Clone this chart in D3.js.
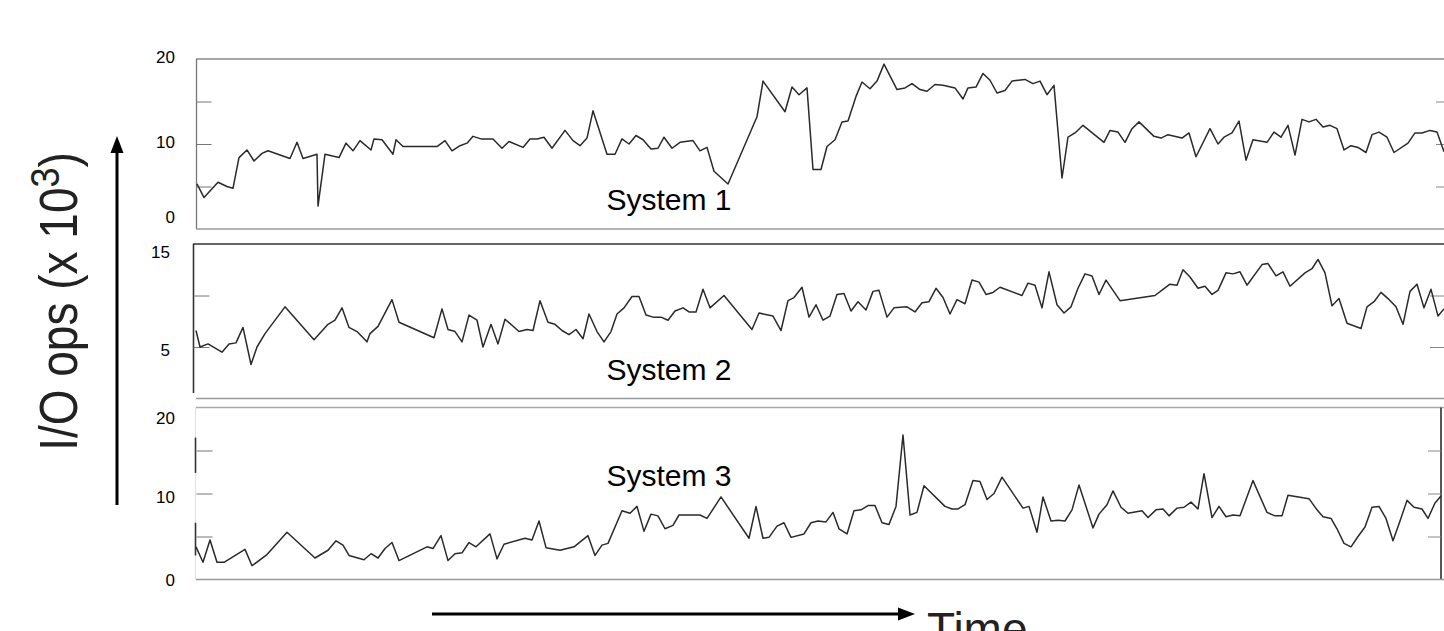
<!DOCTYPE html>
<html>
<head>
<meta charset="utf-8">
<script src="https://cdn.jsdelivr.net/npm/d3@7"></script>
<style>
  html, body { margin: 0; padding: 0; background: #fff; }
  svg { display: block; font-family: "Liberation Sans", Arial, sans-serif; }
</style>
</head>
<body>
<svg id="chart" width="1444" height="631"></svg>
<script>
// time samples (irregular), shared time axis 0..1248
var s1Time = [1, 8, 22, 31, 37, 43, 51, 58, 66, 72, 94, 101, 107, 121, 122, 129, 143, 150, 157, 164, 175, 178, 186, 197, 200, 207, 241, 249, 256, 264, 271, 277, 285, 297, 306, 313, 327, 334, 341, 348, 356, 369, 377, 384, 391, 397,
  411, 419, 426, 433, 440, 447, 455, 462, 468, 476, 484, 497, 504, 511, 518, 532, 561, 567, 589, 596, 603, 611, 617, 625, 631, 639, 646, 652, 660, 666, 674, 681, 688, 701, 709, 716, 724, 731, 739, 747, 759, 767, 772, 780, 787, 794, 801, 809, 816, 829, 837, 844,
  851, 858, 866, 872, 879, 887, 908, 914, 922, 929, 936, 943, 958, 965, 972, 986, 993, 1000, 1014, 1022, 1028, 1036, 1043, 1050, 1057, 1071, 1078, 1085, 1092, 1099, 1106, 1113, 1120, 1127, 1134, 1141, 1148, 1155, 1162, 1170, 1176, 1183, 1191, 1198, 1212, 1219, 1226, 1234, 1241, 1248];
var s1Ops = [5.3, 3.7, 5.5, 5.0, 4.8, 8.4, 9.3, 8.0, 8.9, 9.2, 8.3, 10.2, 8.3, 8.8, 2.7, 8.8, 8.4, 10.1, 9.2, 10.4, 9.3, 10.6, 10.5, 8.8, 10.5, 9.7, 9.7, 10.4, 9.2, 9.8, 10.1, 10.9, 10.6, 10.6, 9.5, 10.3, 9.6, 10.6, 10.6, 10.8, 9.5, 11.6, 10.4, 9.8, 10.7, 13.9,
  8.8, 8.8, 10.6, 10.0, 11.0, 10.5, 9.4, 9.5, 10.8, 9.5, 10.2, 10.4, 9.2, 9.6, 6.8, 5.3, 13.2, 17.4, 13.8, 16.7, 15.8, 16.6, 7.0, 7.0, 9.7, 10.5, 12.6, 12.7, 15.6, 17.3, 16.5, 17.4, 19.4, 16.4, 16.6, 17.1, 16.4, 16.2, 17.0, 16.9, 16.6, 15.3, 16.6, 16.7, 18.3, 17.5, 16.0, 16.3, 17.4, 17.6, 17.1, 17.4,
  15.8, 16.9, 6.0, 10.8, 11.3, 12.2, 10.2, 11.6, 11.4, 10.2, 11.8, 12.6, 10.9, 10.7, 11.1, 10.7, 11.3, 8.5, 11.8, 10.0, 10.8, 11.3, 12.7, 8.1, 10.5, 10.2, 11.4, 10.8, 12.2, 8.7, 12.9, 12.6, 12.9, 12.0, 12.2, 11.8, 9.3, 9.8, 9.6, 9.0, 11.1, 11.4, 10.8, 9.0, 10.1, 11.3, 11.3, 11.6, 11.4, 9.1];

var s2Time = [0, 4, 12, 26, 33, 40, 47, 55, 61, 69, 89, 118, 132, 139, 146, 153, 161, 171, 174, 182, 196, 203, 238, 246, 252, 259, 266, 273, 281, 287, 295, 302, 309, 323, 331, 337, 344, 352, 359, 366, 373, 380, 387, 393,
  401, 408, 415, 421, 428, 436, 443, 450, 457, 465, 472, 479, 487, 493, 500, 507, 514, 528, 556, 563, 577, 585, 592, 598, 606, 613, 620, 627, 634, 641, 648, 655, 662, 670, 677, 683, 691, 698, 711, 719, 726, 733, 740, 747, 754, 761, 769, 776, 783, 790, 797, 804, 826, 832, 839,
  846, 853, 861, 868, 875, 882, 889, 896, 903, 910, 924, 959, 967, 974, 981, 987, 994, 1002, 1009, 1016, 1022, 1030, 1037, 1044, 1051, 1066, 1072, 1080, 1087, 1094, 1109, 1116, 1122, 1129, 1136, 1143, 1151, 1165, 1171, 1178, 1185, 1192, 1200, 1207, 1214, 1221, 1228, 1235, 1242, 1248];
var s2Ops = [6.6, 5.0, 5.3, 4.5, 5.3, 5.4, 6.9, 3.3, 5.0, 6.3, 8.9, 5.7, 7.2, 7.6, 8.8, 6.9, 6.5, 5.5, 6.3, 7.0, 9.6, 7.4, 5.9, 8.7, 6.7, 6.5, 5.5, 8.1, 7.6, 5.0, 7.2, 5.3, 7.7, 6.5, 6.7, 6.6, 9.5, 7.4, 7.2, 6.6, 6.2, 6.7, 5.8, 8.2,
  6.5, 5.5, 6.5, 8.2, 8.8, 9.9, 9.9, 8.1, 7.9, 7.9, 7.6, 8.5, 8.8, 8.4, 8.4, 10.6, 8.8, 10.0, 6.7, 8.3, 8.0, 6.6, 9.5, 9.8, 10.8, 7.9, 9.1, 7.6, 8.0, 10.1, 10.2, 8.5, 9.4, 8.6, 10.4, 10.5, 7.9, 8.8, 8.9, 8.4, 9.3, 9.4, 10.7, 9.8, 8.2, 9.6, 9.2, 11.5, 11.3, 10.1, 10.3, 10.8, 10.0, 11.2, 11.0,
  8.8, 12.3, 9.1, 8.3, 8.9, 10.7, 12.1, 11.9, 10.1, 11.5, 9.5, 10.0, 10.6, 11.1, 11.0, 12.5, 11.8, 10.7, 10.9, 10.1, 10.5, 12.2, 12.1, 12.3, 11.0, 13.0, 13.1, 11.9, 12.3, 10.9, 12.2, 12.6, 13.5, 12.2, 9.0, 9.7, 7.3, 6.8, 8.9, 9.4, 10.3, 9.7, 8.9, 7.2, 10.4, 11.1, 8.8, 10.6, 8.0, 8.7];

var s3Time = [0, 7, 14, 21, 28, 49, 56, 71, 91, 119, 132, 140, 147, 153, 168, 175, 182, 189, 196, 203, 231, 237, 245, 252, 259, 266, 273, 280, 294, 301, 308, 329, 336, 343, 350, 364, 378, 392, 399,
  406, 412, 426, 434, 441, 448, 455, 462, 469, 477, 483, 504, 511, 525, 553, 560, 567, 573, 581, 588, 595, 608, 615, 622, 630, 637, 643, 651, 658, 665, 672, 679, 686, 693, 700, 707, 714, 721, 728, 749, 756, 762, 769, 777, 784, 791, 798, 806, 827, 833, 841,
  847, 855, 862, 869, 876, 883, 897, 903, 911, 917, 925, 932, 946, 952, 960, 967, 973, 981, 988, 995, 1002, 1008, 1016, 1023, 1030, 1037, 1044, 1057, 1071, 1079, 1086, 1092, 1107, 1113, 1121, 1127, 1135, 1141, 1148, 1155, 1162, 1169, 1176, 1183, 1190, 1197, 1204, 1211, 1218, 1226, 1232, 1239, 1245];
var s3Ops = [3.8, 2.0, 4.6, 2.0, 2.0, 3.5, 1.6, 2.9, 5.5, 2.5, 3.4, 4.5, 4.0, 2.8, 2.3, 3.0, 2.5, 3.6, 4.3, 2.2, 3.8, 3.6, 5.1, 2.2, 3.0, 3.1, 4.3, 3.8, 5.3, 2.4, 4.1, 4.8, 4.6, 6.8, 3.7, 3.4, 3.8, 5.1, 2.8,
  4.0, 4.2, 8.0, 7.7, 8.5, 5.6, 7.6, 7.4, 5.9, 6.3, 7.5, 7.5, 7.1, 9.6, 4.8, 8.5, 4.8, 4.9, 6.2, 6.6, 4.9, 5.3, 6.6, 6.8, 6.7, 7.8, 5.9, 5.3, 8.0, 8.1, 8.6, 8.6, 6.6, 6.4, 8.5, 16.8, 7.5, 7.8, 10.9, 8.5, 8.2, 8.2, 8.7, 11.5, 11.4, 9.3, 10.0, 11.9, 8.3, 8.5, 5.5,
  9.6, 6.8, 6.9, 6.8, 8.1, 11.0, 6.0, 7.6, 8.7, 10.3, 8.4, 7.7, 8.0, 7.2, 8.1, 8.2, 7.4, 8.3, 8.4, 9.0, 8.2, 12.3, 7.2, 8.5, 7.3, 7.5, 7.4, 11.5, 7.8, 7.4, 7.4, 9.8, 9.5, 9.4, 8.1, 7.3, 7.1, 5.9, 4.2, 3.8, 5.0, 6.1, 8.4, 8.5, 7.1, 4.5, 6.8, 9.2, 8.4, 8.2, 7.1, 8.9, 9.7];

var systemNames = ["System 1", "System 2", "System 3"];
var yMax = [20, 15, 20];
var tickVals = [[5, 10, 15], [5, 10], [5, 10, 15]];
var tickLabels = [[20, 10, 0], [15, 5], [20, 10, 0]];
var yTitle = "I/O ops (x 10";
var xTitle = "Time";

// layout
var panels = [
  {top: 59, bottom: 229, labelX: 175, labelDy: [-1.5, -1.5, -11.5], nameY: 209.5, leftTick: 15, rightTick: 8},
  {top: 244, bottom: 398.5, labelX: 170, labelDy: [8.5, 3], nameY: 380, leftTick: 16, rightTick: 14},
  {top: 407.5, bottom: 579.5, labelX: 175, labelDy: [10.5, 3.5, 0.5], nameY: 486, leftTick: 16, rightTick: 13}
];
var series = [[s1Time, s1Ops], [s2Time, s2Ops], [s3Time, s3Ops]];

var svg = d3.select('#chart');

var x = d3.scaleLinear().domain([0, 1248]).range([196, 1444]);

panels.forEach(function (p, i) {
  var y = d3.scaleLinear().domain([0, yMax[i]]).range([p.bottom, p.top]);
  var g = svg.append('g');

  // frame lines, scan style
  if (i === 0) {
    g.append('line').attr('x1', 196).attr('x2', 1444).attr('y1', p.top).attr('y2', p.top).attr('stroke', '#888').attr('stroke-width', 1.3);
    g.append('line').attr('x1', 196.5).attr('x2', 196.5).attr('y1', p.top).attr('y2', p.bottom).attr('stroke', '#777').attr('stroke-width', 1.3);
  } else if (i === 1) {
    g.append('line').attr('x1', 193).attr('x2', 1444).attr('y1', p.top).attr('y2', p.top).attr('stroke', '#333').attr('stroke-width', 1.6);
    g.append('line').attr('x1', 193.5).attr('x2', 193.5).attr('y1', p.top).attr('y2', 393).attr('stroke', '#333').attr('stroke-width', 1.6);
  } else {
    g.append('line').attr('x1', 196).attr('x2', 1444).attr('y1', p.top).attr('y2', p.top).attr('stroke', '#aaa').attr('stroke-width', 1.3);
    g.append('line').attr('x1', 1441).attr('x2', 1441).attr('y1', p.top).attr('y2', p.bottom).attr('stroke', '#444').attr('stroke-width', 1.8);
    g.append('line').attr('x1', 195.5).attr('x2', 195.5).attr('y1', p.top).attr('y2', p.bottom).attr('stroke', '#e2e2e2').attr('stroke-width', 1);
    [[16.5, 12.4], [6.6, 2.8]].forEach(function (s) {
      g.append('line').attr('x1', 195.5).attr('x2', 195.5).attr('y1', y(s[0])).attr('y2', y(s[1])).attr('stroke', '#333').attr('stroke-width', 1.6);
    });
  }
  g.append('line').attr('x1', 196).attr('x2', 1444).attr('y1', p.bottom).attr('y2', p.bottom).attr('stroke', '#999').attr('stroke-width', 1.3);

  // inward ticks on both sides
  var leftX = i === 1 ? 193.5 : 196.5;
  var rightX = i === 2 ? 1441 : 1444;
  g.append('g')
    .attr('transform', 'translate(' + leftX + ',0)')
    .call(d3.axisRight(y).tickValues(tickVals[i]).tickSize(p.leftTick).tickFormat(''))
    .call(function (a) { a.select('.domain').remove(); a.selectAll('line').attr('stroke', '#777'); });
  g.append('g')
    .attr('transform', 'translate(' + rightX + ',0)')
    .call(d3.axisLeft(y).tickValues(tickVals[i]).tickSize(p.rightTick).tickFormat(''))
    .call(function (a) { a.select('.domain').remove(); a.selectAll('line').attr('stroke', '#888'); });

  // tick labels
  g.selectAll('text.lab')
    .data(tickLabels[i])
    .enter()
    .append('text')
    .attr('class', 'lab')
    .attr('x', p.labelX)
    .attr('y', function (d, k) { return y(d) + p.labelDy[k]; })
    .attr('dominant-baseline', 'central')
    .attr('text-anchor', 'end')
    .attr('font-size', 17)
    .attr('fill', '#000')
    .text(function (d) { return d; });

  // series line
  var pts = d3.zip(series[i][0], series[i][1]);
  var line = d3.line()
    .x(function (d) { return x(d[0]); })
    .y(function (d) { return y(d[1]); });
  g.append('path')
    .datum(pts)
    .attr('d', line)
    .attr('fill', 'none')
    .attr('stroke', '#2a2a2a')
    .attr('stroke-width', 1.5)
    .attr('stroke-linejoin', 'round');

  g.append('text')
    .attr('x', 606.5)
    .attr('y', p.nameY)
    .attr('font-size', 30)
    .attr('fill', '#000')
    .text(systemNames[i]);
});

// y title with arrow (scanned glyphs are a bit taller than wide)
var yt = svg.append('text')
  .attr('transform', 'translate(77,301.5) rotate(-90) scale(1,1.15)')
  .attr('text-anchor', 'middle')
  .attr('font-size', 46)
  .attr('fill', '#222');
yt.append('tspan').text(yTitle);
yt.append('tspan').attr('dy', -16).attr('font-size', 36).text('3');
yt.append('tspan').attr('dy', 16).text(')');

svg.append('line').attr('x1', 117).attr('x2', 117).attr('y1', 505).attr('y2', 150).attr('stroke', '#000').attr('stroke-width', 3);
svg.append('path').attr('d', 'M117,136 L110.5,153 L123.5,153 Z').attr('fill', '#000');

svg.append('line').attr('x1', 432).attr('x2', 900).attr('y1', 614).attr('y2', 614).attr('stroke', '#000').attr('stroke-width', 3);
svg.append('path').attr('d', 'M915,614 L898,607.5 L898,620.5 Z').attr('fill', '#000');

// the reference cuts this word at the bottom edge
svg.append('text')
  .attr('x', 927)
  .attr('y', 645)
  .attr('font-size', 46)
  .attr('fill', '#222')
  .text(xTitle);
</script>
</body>
</html>
